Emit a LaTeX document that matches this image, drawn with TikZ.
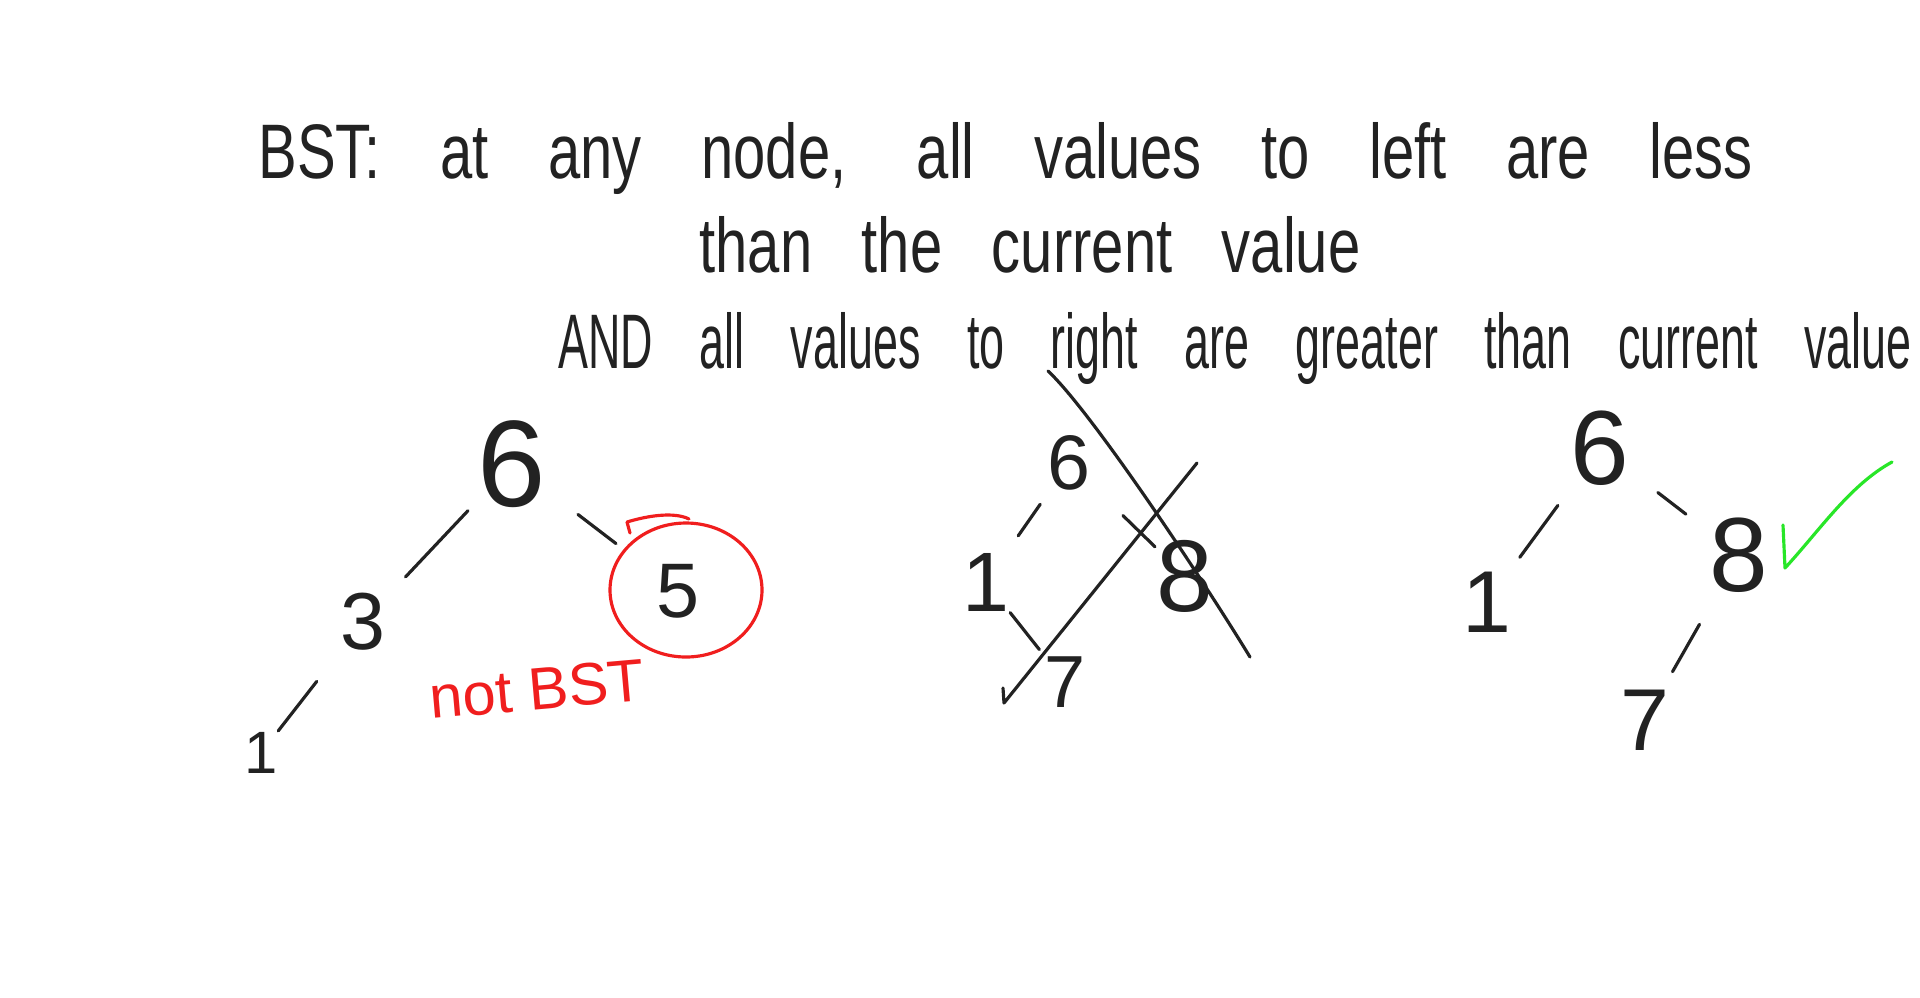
\documentclass[tikz,border=0pt]{standalone}
\usepackage{fontspec}
\setmainfont{Liberation Sans}[FakeStretch=0.75]
\newfontfamily\narrowhand{Liberation Sans}[FakeStretch=0.58]
\newfontfamily\digits{Liberation Sans}

\definecolor{ink}{RGB}{34,34,34}
\definecolor{penred}{RGB}{240,30,30}
\definecolor{pengreen}{RGB}{40,230,40}

\begin{document}
\begin{tikzpicture}[
  x=0.1mm, y=-0.1mm,
  line width=0.9pt, line cap=round, line join=round,
  hand/.style={anchor=base west, inner sep=0pt, text=ink, font=\fontsize{22}{22}\selectfont},
  num/.style={inner sep=0pt, text=ink, font=\digits\fontsize{#1}{#1}\selectfont},
  num/.default=24,
  edge/.style={draw=ink},
  cross/.style={draw=ink},
  redpen/.style={draw=penred},
  okcheck/.style={draw=pengreen}
]
\useasboundingbox[fill=white] (0,0) rectangle (1920,997);

% Definition
\node[hand] (rule1) at (257,178) {\makebox[149.4mm][s]{BST: at any node, all values to left are less}};
\node[hand] (rule2) at (698,272) {\makebox[66.1mm][s]{than the current value}};
\node[hand, font=\narrowhand\fontsize{22}{22}\selectfont] (rule3) at (557,368) {\makebox[135.3mm][s]{AND all values to right are greater than current value}};

% Tree A: not a BST
\node[num=35] (asix) at (512,464) {6};
\node[num=23] (athree) at (363,622) {3};
\node[num=22] (afive) at (678,591) {5};
\node[num=17] (aone) at (261,753) {1};
\node[text=penred, inner sep=0pt, rotate=5, font=\digits\fontsize{17}{17}\selectfont] (anote) at (537,689) {not BST};

\draw[edge, shorten <=1.2mm, shorten >=2.7mm] (asix) -- (athree);
\draw[edge, shorten <=3.8mm, shorten >=4.9mm] (asix) -- (afive);
\draw[edge, shorten <=3.7mm] (athree) -- (aone);
\draw[redpen] (686,590) ellipse [x radius=7.6mm, y radius=6.7mm];
\draw[redpen] (630,533) -- (627,522) .. controls (650,515) and (675,512) .. (689,519);

% Tree B: crossed out
\node[num=22] (bsix) at (1069,463) {6};
\node[num=24] (bone) at (986,582) {1};
\node[num=29] (beight) at (1185,576) {8};
\node[num=21] (bseven) at (1065,682) {7};

\draw[edge, shorten <=1.5mm, shorten >=1.9mm] (bsix) -- (bone);
\draw[edge, shorten <=4.3mm] (bsix) -- (beight);
\draw[edge, shorten >=0.7mm] (bone) -- (bseven);
\coordinate (xa1) at (1048,371);
\coordinate (xa2) at (1250,657);
\coordinate (xb0) at (1003,688);
\coordinate (xb1) at (1004,703);
\coordinate (xb2) at (1197,463);
\draw[cross] (xa1) .. controls (1090,410) and (1200,575) .. (xa2);
\draw[cross] (xb0) -- (xb1) -- (xb2);

% Tree C: valid BST
\node[num=30] (csix) at (1600,448) {6};
\node[num=25] (cone) at (1487,602) {1};
\node[num=30] (ceight) at (1739,555) {8};
\node[num=25] (cseven) at (1645,720) {7};

\draw[edge, shorten <=2.3mm, shorten >=1.6mm] (csix) -- (cone);
\draw[edge, shorten <=3.4mm, shorten >=2.8mm] (csix) -- (ceight);
\draw[edge, shorten <=3.5mm, shorten >=1.9mm] (ceight) -- (cseven);
\coordinate (ok1) at (1783,525);
\coordinate (ok2) at (1785,568);
\coordinate (ok3) at (1892,462);
\draw[okcheck] (ok1) -- (ok2) .. controls (1820,530) and (1850,485) .. (ok3);

\end{tikzpicture}
\end{document}
